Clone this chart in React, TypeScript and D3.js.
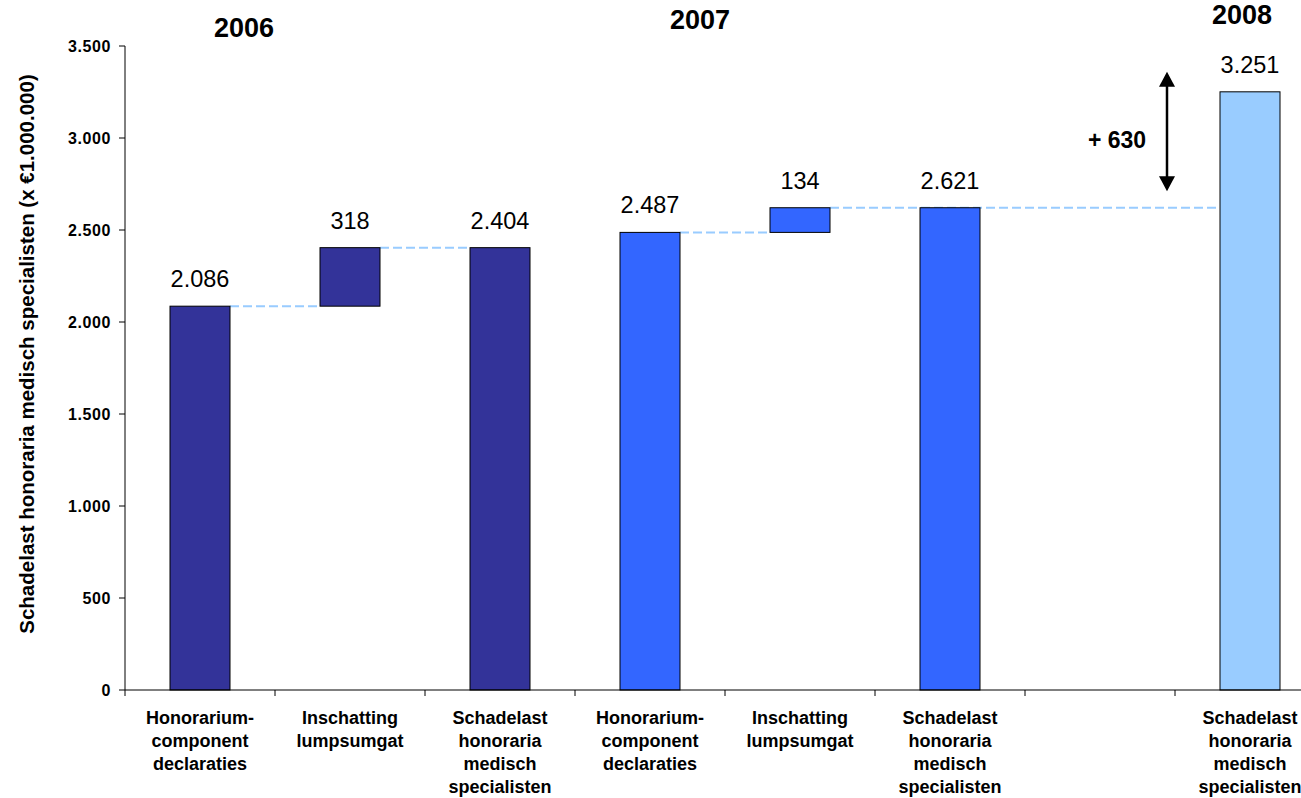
import React from "react";
import * as d3 from "d3";

const categories = [
  ["Honorarium-", "component", "declaraties"],
  ["Inschatting", "lumpsumgat"],
  ["Schadelast", "honoraria", "medisch", "specialisten"],
  ["Honorarium-", "component", "declaraties"],
  ["Inschatting", "lumpsumgat"],
  ["Schadelast", "honoraria", "medisch", "specialisten"],
  [],
  ["Schadelast", "honoraria", "medisch", "specialisten"],
];
const barStart = [0, 2086, 0, 0, 2487, 0, null, 0];
const barEnd = [2086, 2404, 2404, 2487, 2621, 2621, null, 3251];
const barLabels = ["2.086", "318", "2.404", "2.487", "134", "2.621", "", "3.251"];
const barGroup = [0, 0, 0, 1, 1, 1, 2, 2];
const groupColors = ["#333399", "#3366FF", "#99CCFF"];
const years = ["2006", "2007", "2008"];
const connectors = [
  { from: 0, to: 1, value: 2086 },
  { from: 1, to: 2, value: 2404 },
  { from: 3, to: 4, value: 2487 },
  { from: 4, to: 7, value: 2621 },
];
const yTicks = [0, 500, 1000, 1500, 2000, 2500, 3000, 3500];
const arrowRange = [2710, 3360];
const arrowLabel = "+ 630";

const fmt = d3.formatLocale({ decimal: ",", thousands: ".", grouping: [3], currency: ["€", ""] }).format(",d");

export default function App() {
  const W = 1301, H = 798;
  const x0 = 125, y0 = 690;
  const x = d3.scaleBand<number>().domain(d3.range(8)).range([x0, x0 + 150 * 8]).paddingInner(0.6).paddingOuter(0.3);
  const y = d3.scaleLinear().domain([0, 3500]).range([y0, 46]);
  const bw = x.bandwidth();
  const bandStart = (i: number) => x0 + i * 150;
  const font = "'Liberation Sans', Arial, sans-serif";
  const yearPos = [
    { x: 244, y: 37 },
    { x: 700, y: 29 },
    { x: 1242, y: 24 },
  ];
  const ax = 1167;
  const yTop = y(arrowRange[1]);
  const yBot = y(arrowRange[0]);
  return (
    <svg width={W} height={H} style={{ position: "absolute", left: 0, top: 0, background: "#fff" }} fontFamily={font}>
      {/* connectors */}
      {connectors.map((c, i) => (
        <line key={"c" + i} x1={(x(c.from) as number) + bw} x2={x(c.to) as number} y1={y(c.value)} y2={y(c.value)}
          stroke="#99CCFF" strokeWidth={2} strokeDasharray="9,4" />
      ))}
      {/* bars */}
      {barEnd.map((v, i) => v == null ? null : (
        <g key={"b" + i}>
          <rect x={x(i)} y={y(v)} width={bw} height={y(barStart[i] as number) - y(v)}
            fill={groupColors[barGroup[i]]} stroke="#000" strokeWidth={1} />
          <text x={(x(i) as number) + bw / 2} y={y(v) - 19} textAnchor="middle" fontSize={23.5}>{barLabels[i]}</text>
        </g>
      ))}
      {/* y axis */}
      <line x1={x0} x2={x0} y1={y(3500)} y2={y0} stroke="#000" />
      {yTicks.map(t => (
        <g key={"y" + t}>
          <line x1={x0 - 6} x2={x0} y1={y(t)} y2={y(t)} stroke="#000" />
          <text x={x0 - 14} y={y(t) + 6} textAnchor="end" fontSize={16} letterSpacing={0.6} fontWeight="bold">{fmt(t)}</text>
        </g>
      ))}
      {/* x axis */}
      <line x1={x0} x2={W} y1={y0} y2={y0} stroke="#000" />
      {d3.range(9).map(i => (
        <line key={"xt" + i} x1={bandStart(i)} x2={bandStart(i)} y1={y0} y2={y0 + 6} stroke="#000" />
      ))}
      {categories.map((lines, i) => (
        <text key={"xl" + i} textAnchor="middle" fontSize={18} fontWeight="bold">
          {lines.map((l, j) => (
            <tspan key={j} x={(x(i) as number) + bw / 2} y={724 + j * 23}>{l}</tspan>
          ))}
        </text>
      ))}
      {/* years */}
      {years.map((yr, i) => (
        <text key={yr} x={yearPos[i].x} y={yearPos[i].y} textAnchor="middle" fontSize={27} fontWeight="bold">{yr}</text>
      ))}
      {/* y label */}
      <text transform={`translate(34,354) rotate(-90)`} textAnchor="middle" fontSize={20.5} fontWeight={700}>
        Schadelast honoraria medisch specialisten (x €1.000.000)
      </text>
      {/* arrow */}
      <line x1={ax} x2={ax} y1={yBot - 10} y2={yTop + 10} stroke="#000" strokeWidth={2.5} />
      <path d={`M${ax - 8},${yTop + 15} L${ax},${yTop} L${ax + 8},${yTop + 15} Z`} fill="#000" />
      <path d={`M${ax - 8},${yBot - 15} L${ax},${yBot} L${ax + 8},${yBot - 15} Z`} fill="#000" />
      <text x={1117} y={148} textAnchor="middle" fontSize={23} fontWeight="bold">{arrowLabel}</text>
    </svg>
  );
}
